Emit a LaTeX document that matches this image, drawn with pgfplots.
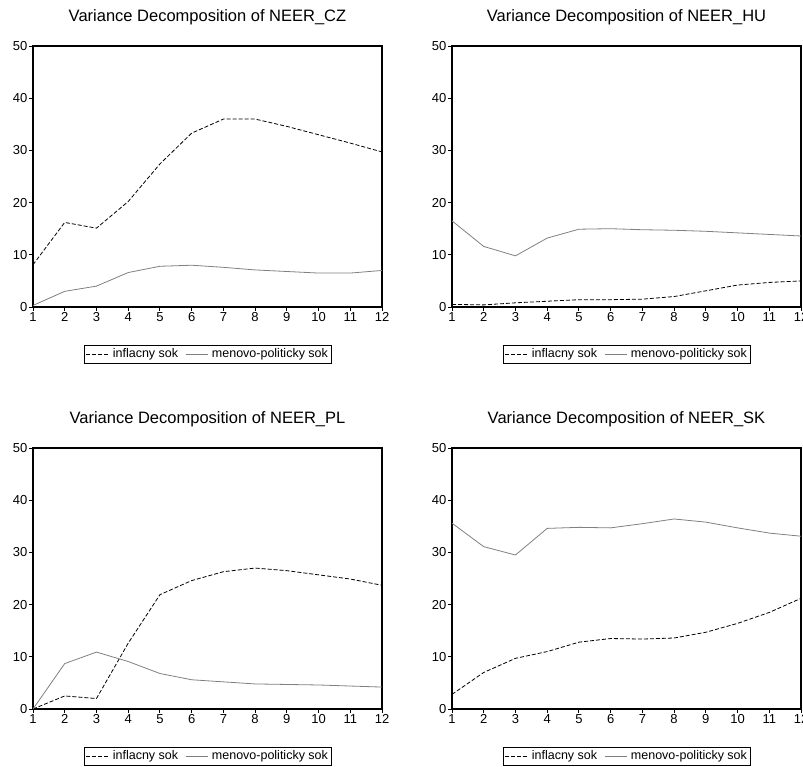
\documentclass[border=0pt]{standalone}
\usepackage{pgfplots}
\pgfplotsset{compat=1.18}
\usepackage{fontspec}
\setmainfont{Liberation Sans}

\definecolor{solidgray}{RGB}{128,128,128}

% shared look of the four EViews-style panels
\pgfplotsset{
  vdpanel/.style={
    scale only axis,
    width=349pt, height=261pt,
    anchor=south west,
    xmin=1, xmax=12, ymin=0, ymax=50,
    xtick={1,...,12}, ytick={0,10,...,50},
    tick align=outside,
    major tick length=4pt,
    xtick pos=bottom, ytick pos=left,
    axis line style={line width=1.1pt},
    tick style={black, line width=0.9pt},
    tick label style={font=\fontsize{13}{14}\selectfont},
    xticklabel style={inner sep=1pt},
    yticklabel style={inner sep=1.5pt},
    /pgf/number format/assume math mode=true,
    every axis title/.style={at={(0.5,1)}, anchor=base, yshift=24pt,
      font=\fontsize{16.5}{18}\selectfont},
    legend columns=2,
    legend style={at={(0.5,-0.1456)}, anchor=north, draw=black,
      line width=0.8pt, font=\fontsize{12.5}{13}\selectfont,
      inner xsep=2pt, inner ysep=1.5pt,
      nodes={inner xsep=1pt},
      /tikz/every odd column/.append style={column sep=3pt},
      /tikz/every even column/.append style={column sep=6pt}},
    legend image code/.code={\draw[#1] (0pt,0pt) -- (22pt,0pt);},
  },
  inf/.style={black, line width=0.8pt, dash pattern=on 4pt off 2pt},
  mon/.style={solidgray, line width=0.8pt},
}

\begin{document}
\begin{tikzpicture}[x=1pt,y=1pt]
\clip (0,0) rectangle (803,767);

% NEER_CZ
\begin{axis}[vdpanel, at={(33pt,460pt)}, title={Variance Decomposition of NEER\_CZ}]
\addplot[inf] coordinates {(1,8.1) (2,16.2) (3,15.1) (4,20.2) (5,27.4) (6,33.3) (7,36.0) (8,36.0) (9,34.6) (10,33.0) (11,31.4) (12,29.7)};
\addplot[mon] coordinates {(1,0.3) (2,3.0) (3,4.0) (4,6.6) (5,7.8) (6,8.0) (7,7.6) (8,7.1) (9,6.8) (10,6.5) (11,6.5) (12,7.0)};
\legend{inflacny sok, menovo-politicky sok}
\end{axis}

% NEER_HU
\begin{axis}[vdpanel, at={(452pt,460pt)}, title={Variance Decomposition of NEER\_HU}]
\addplot[inf] coordinates {(1,0.5) (2,0.4) (3,0.8) (4,1.1) (5,1.4) (6,1.4) (7,1.5) (8,2.0) (9,3.1) (10,4.2) (11,4.7) (12,5.0)};
\addplot[mon] coordinates {(1,16.5) (2,11.6) (3,9.8) (4,13.2) (5,14.9) (6,15.0) (7,14.8) (8,14.7) (9,14.5) (10,14.2) (11,13.9) (12,13.6)};
\legend{inflacny sok, menovo-politicky sok}
\end{axis}

% NEER_PL
\begin{axis}[vdpanel, at={(33pt,58pt)}, title={Variance Decomposition of NEER\_PL}]
\addplot[inf] coordinates {(1,0.0) (2,2.5) (3,2.0) (4,12.6) (5,21.9) (6,24.6) (7,26.3) (8,27.0) (9,26.5) (10,25.7) (11,24.9) (12,23.7)};
\addplot[mon] coordinates {(1,0.0) (2,8.7) (3,10.9) (4,9.1) (5,6.8) (6,5.6) (7,5.2) (8,4.8) (9,4.7) (10,4.6) (11,4.4) (12,4.2)};
\legend{inflacny sok, menovo-politicky sok}
\end{axis}

% NEER_SK
\begin{axis}[vdpanel, at={(452pt,58pt)}, title={Variance Decomposition of NEER\_SK}]
\addplot[inf] coordinates {(1,2.8) (2,7.0) (3,9.7) (4,11.0) (5,12.8) (6,13.5) (7,13.4) (8,13.6) (9,14.7) (10,16.4) (11,18.5) (12,21.2)};
\addplot[mon] coordinates {(1,35.6) (2,31.1) (3,29.5) (4,34.6) (5,34.8) (6,34.7) (7,35.5) (8,36.4) (9,35.8) (10,34.7) (11,33.7) (12,33.1)};
\legend{inflacny sok, menovo-politicky sok}
\end{axis}
\end{tikzpicture}
\end{document}
